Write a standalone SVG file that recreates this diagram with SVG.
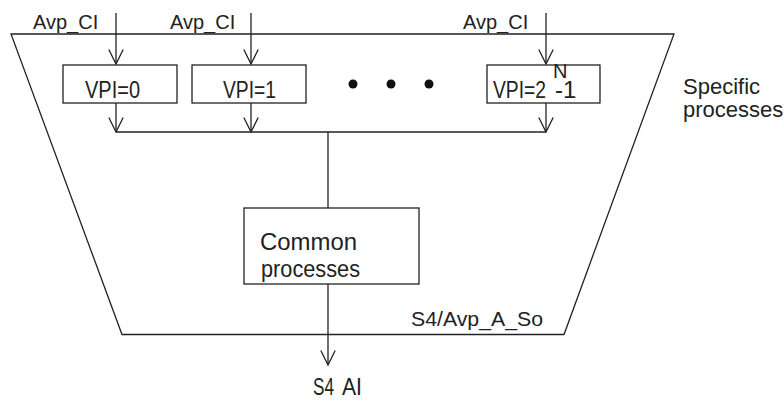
<svg xmlns="http://www.w3.org/2000/svg" width="784" height="401" viewBox="0 0 784 401">
<defs>
<style>
.ln{stroke:#222;stroke-width:1.3;fill:none}
.bx{stroke:#222;stroke-width:1.3;fill:#fff}
text{font-family:"Liberation Sans",Arial,sans-serif;fill:#222}
.s20{font-size:20px}
.s22{font-size:22px}
.s24{font-size:24px}
</style>
<marker id="ah" viewBox="0 0 16 16" refX="15" refY="8" markerWidth="16" markerHeight="16" markerUnits="userSpaceOnUse" orient="auto">
<path d="M0.5,0.8 L15,8 L0.5,15.2" fill="none" stroke="#222" stroke-width="1.3"/>
</marker>
</defs>
<rect width="784" height="401" fill="#fff"/>
<g id="boundary">
<polygon class="ln" points="11,34 674,34 564,334.5 122,334.5"/>
<text style="font-size:21px" x="411" y="326" textLength="132" lengthAdjust="spacingAndGlyphs">S4/Avp_A_So</text>
</g>
<g id="connectors">
<line class="ln" x1="116" y1="13" x2="116" y2="64" marker-end="url(#ah)"/>
<line class="ln" x1="251" y1="13" x2="251" y2="64" marker-end="url(#ah)"/>
<line class="ln" x1="546" y1="13" x2="546" y2="64" marker-end="url(#ah)"/>
<line class="ln" x1="116" y1="103" x2="116" y2="132" marker-end="url(#ah)"/>
<line class="ln" x1="251" y1="103" x2="251" y2="132" marker-end="url(#ah)"/>
<line class="ln" x1="546" y1="103" x2="546" y2="132" marker-end="url(#ah)"/>
<line class="ln" x1="116" y1="132" x2="546" y2="132"/>
<line class="ln" x1="328" y1="132" x2="328" y2="208"/>
<line class="ln" x1="328" y1="284" x2="328" y2="365" marker-end="url(#ah)"/>
<text class="s20" x="33" y="29">Avp_CI</text>
<text class="s20" x="170" y="29">Avp_CI</text>
<text class="s20" x="463" y="29">Avp_CI</text>
<text class="s24" x="313" y="395"><tspan textLength="21" lengthAdjust="spacingAndGlyphs">S4</tspan><tspan x="342" textLength="20" lengthAdjust="spacingAndGlyphs">AI</tspan></text>
</g>
<g id="vpi0">
<rect class="bx" x="63" y="65" width="114" height="38"/>
<text class="s24" x="85" y="98" textLength="55" lengthAdjust="spacingAndGlyphs">VPI=0</text>
</g>
<g id="vpi1">
<rect class="bx" x="192" y="65" width="114" height="38"/>
<text class="s24" x="223" y="98" textLength="53" lengthAdjust="spacingAndGlyphs">VPI=1</text>
</g>
<g id="dots">
<circle cx="353" cy="84" r="4.5" fill="#111"/>
<circle cx="391" cy="84" r="4.5" fill="#111"/>
<circle cx="429" cy="84" r="4.5" fill="#111"/>
</g>
<g id="vpiN">
<rect class="bx" x="487" y="65" width="113" height="38"/>
<text class="s24" x="493" y="98"><tspan textLength="53" lengthAdjust="spacingAndGlyphs">VPI=2</tspan><tspan x="553" y="78" style="font-size:20px">N</tspan><tspan x="555" y="98">-1</tspan></text>
</g>
<g id="common">
<rect class="bx" x="244" y="208" width="175" height="76"/>
<text class="s24" x="260" y="250" textLength="97" lengthAdjust="spacingAndGlyphs">Common</text>
<text class="s24" x="261" y="277" textLength="99" lengthAdjust="spacingAndGlyphs">processes</text>
</g>
<g id="specific-label">
<text class="s22" x="683" y="94">Specific</text>
<text class="s22" x="683" y="117">processes</text>
</g>
</svg>
